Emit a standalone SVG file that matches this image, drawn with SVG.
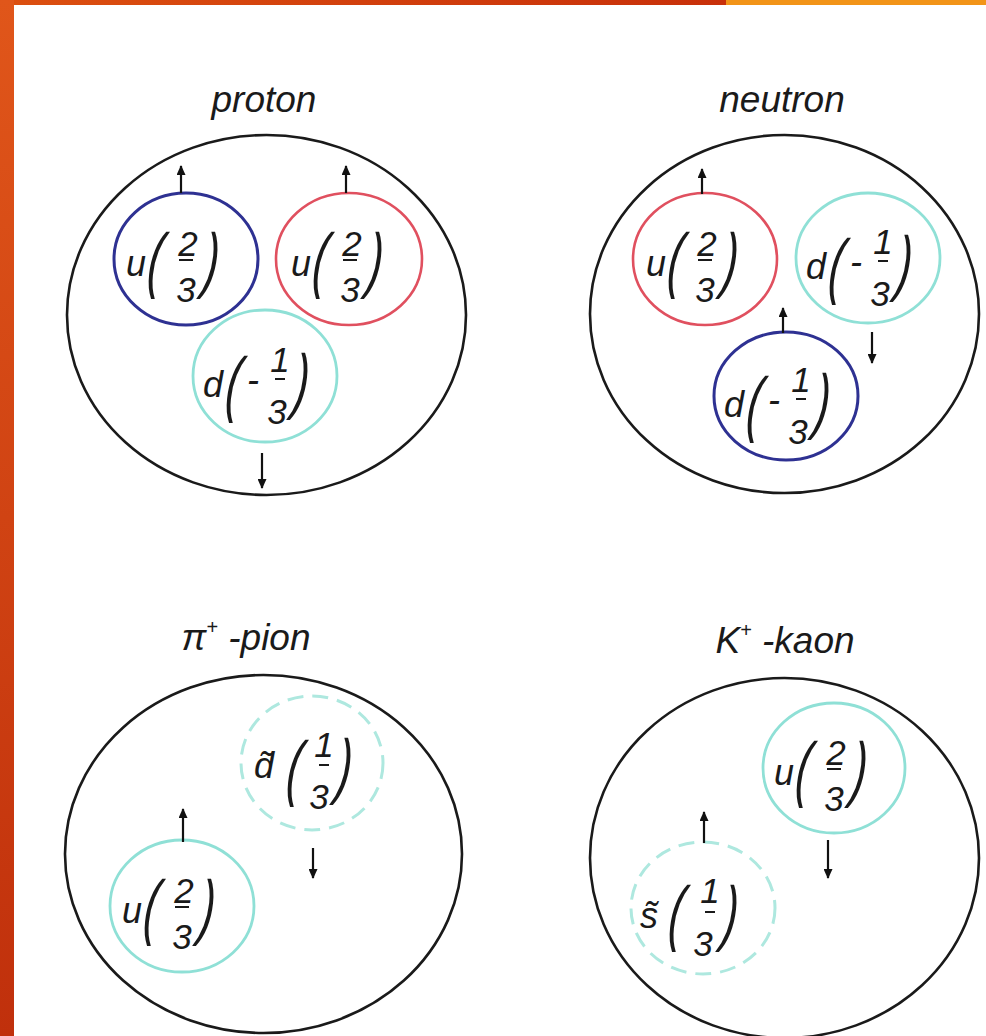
<svg xmlns="http://www.w3.org/2000/svg" width="986" height="1036" viewBox="0 0 986 1036">
<defs>
<linearGradient id="gTop" x1="0" y1="0" x2="1" y2="0">
<stop offset="0" stop-color="#dc5010"/><stop offset="1" stop-color="#c8300a"/>
</linearGradient>
<linearGradient id="gLeft" x1="0" y1="0" x2="0" y2="1">
<stop offset="0" stop-color="#e0561a"/><stop offset="1" stop-color="#c0300c"/>
</linearGradient>
<marker id="ah" viewBox="0 0 10 9" refX="9" refY="4.5" markerWidth="10" markerHeight="9" markerUnits="userSpaceOnUse" orient="auto">
<path d="M0,0 L10,4.5 L0,9 z" fill="#111"/>
</marker>
<style>
.outer{fill:none;stroke:#1a1a1a;stroke-width:2.6}
.qb{fill:none;stroke:#2e3192;stroke-width:3}
.qr{fill:none;stroke:#e0505f;stroke-width:2.6}
.qc{fill:none;stroke:#8fe0d6;stroke-width:2.8}
.qd{fill:none;stroke:#aee8df;stroke-width:3;stroke-dasharray:16 9}
.t{font-family:"Liberation Sans",Arial,sans-serif;font-style:italic;fill:#1a1a1a}
.title{font-size:37px;text-anchor:middle}
.let{font-size:36px}
.dig{font-size:35px;text-anchor:middle}
.par{font-size:40px}
.bar{stroke:#1a1a1a;stroke-width:2}
.arr{stroke:#111;stroke-width:2.2;marker-end:url(#ah)}
</style>
</defs>
<rect width="986" height="1036" fill="#ffffff"/>
<g id="frame">
<rect x="0" y="0" width="726" height="5" fill="url(#gTop)"/>
<rect x="726" y="0" width="260" height="5" fill="#f29418"/>
<rect x="0" y="0" width="14" height="1036" fill="url(#gLeft)"/>
</g>

<g id="proton">
<text class="t title" x="264" y="112">proton</text>
<ellipse class="outer" cx="266.5" cy="315" rx="199.5" ry="180"/>
</g>
<g id="proton-u1" transform="translate(186,259)">
<ellipse class="qb" cx="0" cy="0" rx="72" ry="66"/>
<text class="t let" x="-60" y="17">u</text>
<text class="t par" transform="translate(-40,25) scale(1.1,1.8) skewX(-10)">(</text>
<text class="t dig" x="2" y="-3">2</text>
<line class="bar" x1="-7" y1="1" x2="7" y2="1"/>
<text class="t dig" x="0" y="43">3</text>
<text class="t par" transform="translate(16,25) scale(1.1,1.8) skewX(-10)">)</text>
</g>
<g id="proton-u2" transform="translate(349,259)">
<ellipse class="qr" cx="0" cy="0" rx="73" ry="66"/>
<text class="t let" x="-58" y="17">u</text>
<text class="t par" transform="translate(-38,25) scale(1.1,1.8) skewX(-10)">(</text>
<text class="t dig" x="3" y="-3">2</text>
<line class="bar" x1="-6" y1="1" x2="8" y2="1"/>
<text class="t dig" x="1" y="43">3</text>
<text class="t par" transform="translate(17,25) scale(1.1,1.8) skewX(-10)">)</text>
</g>
<g id="proton-d" transform="translate(265,376)">
<ellipse class="qc" cx="0" cy="0" rx="72" ry="66"/>
<text class="t let" x="-62" y="21">d</text>
<text class="t par" transform="translate(-41,32) scale(1.1,1.8) skewX(-10)">(</text>
<text class="t let" x="-18" y="16">-</text>
<text class="t dig" x="15" y="-4">1</text>
<line class="bar" x1="10" y1="3" x2="20" y2="3"/>
<text class="t dig" x="12" y="48">3</text>
<text class="t par" transform="translate(27,29) scale(1.1,1.8) skewX(-10)">)</text>
</g>

<g id="neutron">
<text class="t title" x="782" y="112">neutron</text>
<ellipse class="outer" cx="784.5" cy="314" rx="194.5" ry="179"/>
</g>
<g id="neutron-u" transform="translate(705,259)">
<ellipse class="qr" cx="0" cy="0" rx="72" ry="66"/>
<text class="t let" x="-59" y="17">u</text>
<text class="t par" transform="translate(-39,25) scale(1.1,1.8) skewX(-10)">(</text>
<text class="t dig" x="2" y="-3">2</text>
<line class="bar" x1="-7" y1="1" x2="7" y2="1"/>
<text class="t dig" x="0" y="43">3</text>
<text class="t par" transform="translate(16,25) scale(1.1,1.8) skewX(-10)">)</text>
</g>
<g id="neutron-d1" transform="translate(868,258)">
<ellipse class="qc" cx="0" cy="0" rx="72" ry="65"/>
<text class="t let" x="-62" y="21">d</text>
<text class="t par" transform="translate(-41,32) scale(1.1,1.8) skewX(-10)">(</text>
<text class="t let" x="-18" y="16">-</text>
<text class="t dig" x="15" y="-4">1</text>
<line class="bar" x1="10" y1="3" x2="20" y2="3"/>
<text class="t dig" x="12" y="48">3</text>
<text class="t par" transform="translate(27,29) scale(1.1,1.8) skewX(-10)">)</text>
</g>
<g id="neutron-d2" transform="translate(786,396)">
<ellipse class="qb" cx="0" cy="0" rx="72" ry="64"/>
<text class="t let" x="-62" y="21">d</text>
<text class="t par" transform="translate(-41,32) scale(1.1,1.8) skewX(-10)">(</text>
<text class="t let" x="-18" y="16">-</text>
<text class="t dig" x="15" y="-4">1</text>
<line class="bar" x1="10" y1="3" x2="20" y2="3"/>
<text class="t dig" x="12" y="48">3</text>
<text class="t par" transform="translate(27,29) scale(1.1,1.8) skewX(-10)">)</text>
</g>

<g id="pion">
<text class="t title" x="246" y="650">π<tspan font-size="20" dy="-16">+</tspan><tspan dy="16"> -pion</tspan></text>
<ellipse class="outer" cx="263.5" cy="854" rx="198.5" ry="179"/>
</g>
<g id="pion-dbar" transform="translate(312,763)">
<ellipse class="qd" cx="0" cy="0" rx="71" ry="67"/>
<text class="t let" x="-58" y="15">d̃</text>
<text class="t par" transform="translate(-27,29) scale(1.1,1.8) skewX(-10)">(</text>
<text class="t dig" x="12" y="-6">1</text>
<line class="bar" x1="7" y1="2" x2="17" y2="2"/>
<text class="t dig" x="7" y="46">3</text>
<text class="t par" transform="translate(23,27) scale(1.1,1.8) skewX(-10)">)</text>
</g>
<g id="pion-u" transform="translate(182,906)">
<ellipse class="qc" cx="0" cy="0" rx="72" ry="66"/>
<text class="t let" x="-60" y="17">u</text>
<text class="t par" transform="translate(-40,25) scale(1.1,1.8) skewX(-10)">(</text>
<text class="t dig" x="2" y="-3">2</text>
<line class="bar" x1="-7" y1="1" x2="7" y2="1"/>
<text class="t dig" x="0" y="43">3</text>
<text class="t par" transform="translate(16,25) scale(1.1,1.8) skewX(-10)">)</text>
</g>

<g id="kaon">
<text class="t title" x="785" y="653">K<tspan font-size="20" dy="-16">+</tspan><tspan dy="16"> -kaon</tspan></text>
<ellipse class="outer" cx="784.5" cy="858" rx="194.5" ry="180"/>
</g>
<g id="kaon-u" transform="translate(834,768)">
<ellipse class="qc" cx="0" cy="0" rx="71" ry="65"/>
<text class="t let" x="-60" y="17">u</text>
<text class="t par" transform="translate(-40,25) scale(1.1,1.8) skewX(-10)">(</text>
<text class="t dig" x="2" y="-3">2</text>
<line class="bar" x1="-7" y1="1" x2="7" y2="1"/>
<text class="t dig" x="0" y="43">3</text>
<text class="t par" transform="translate(16,25) scale(1.1,1.8) skewX(-10)">)</text>
</g>
<g id="kaon-sbar" transform="translate(703,908)">
<ellipse class="qd" cx="0" cy="0" rx="72" ry="66"/>
<text class="t let" x="-63" y="20">s̃</text>
<text class="t par" transform="translate(-36,29) scale(1.1,1.8) skewX(-10)">(</text>
<text class="t dig" x="7" y="-5">1</text>
<line class="bar" x1="2" y1="4" x2="12" y2="4"/>
<text class="t dig" x="0" y="48">3</text>
<text class="t par" transform="translate(18,29) scale(1.1,1.8) skewX(-10)">)</text>
</g>

<g id="connectors">
<line class="arr" x1="181" y1="193" x2="181" y2="166"/>
<line class="arr" x1="346" y1="193" x2="346" y2="166"/>
<line class="arr" x1="262" y1="453" x2="262" y2="488"/>
<line class="arr" x1="702" y1="194" x2="702" y2="169"/>
<line class="arr" x1="783" y1="333" x2="783" y2="308"/>
<line class="arr" x1="872" y1="332" x2="872" y2="363"/>
<line class="arr" x1="183" y1="842" x2="183" y2="809"/>
<line class="arr" x1="313" y1="848" x2="313" y2="878"/>
<line class="arr" x1="704" y1="843" x2="704" y2="812"/>
<line class="arr" x1="828" y1="840" x2="828" y2="878"/>
</g>
</svg>
